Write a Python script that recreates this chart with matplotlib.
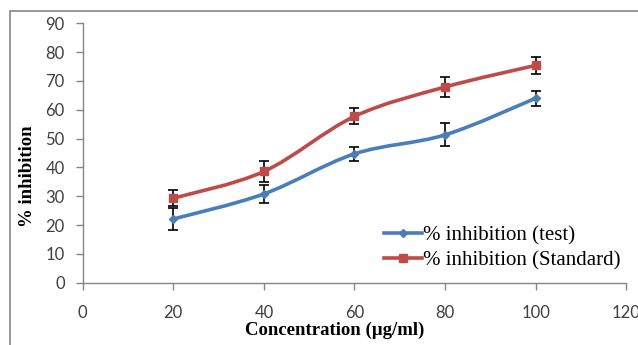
import matplotlib.pyplot as plt
import numpy as np
from matplotlib.path import Path
from matplotlib.patches import PathPatch, Rectangle

# data
conc = [20, 40, 60, 80, 100]
test_mean = [22.1, 30.8, 44.7, 51.3, 64.0]
test_err = [3.8, 3.0, 2.4, 4.0, 2.6]
std_mean = [29.3, 38.6, 57.7, 67.9, 75.4]
std_err = [2.7, 3.5, 2.8, 3.5, 2.9]

x_ticks = [0, 20, 40, 60, 80, 100, 120]
y_ticks = [0, 10, 20, 30, 40, 50, 60, 70, 80, 90]

blue = "#4A7EBB"
red = "#BE4B48"
grey = "#868686"


def smooth_path(x, y):
    # Excel-style smoothed line: cubic bezier through the points
    pts = np.column_stack([x, y]).astype(float)
    n = len(pts)
    verts = [pts[0]]
    codes = [Path.MOVETO]
    for i in range(n - 1):
        p0 = pts[i - 1] if i > 0 else pts[i]
        p1 = pts[i]
        p2 = pts[i + 1]
        p3 = pts[i + 2] if i + 2 < n else pts[i + 1]
        c1 = p1 + (p2 - p0) / 6.0
        c2 = p2 - (p3 - p1) / 6.0
        verts += [c1, c2, p2]
        codes += [Path.CURVE4] * 3
    return Path(verts, codes)


fig = plt.figure(figsize=(6.38, 3.45), dpi=100)
ax = fig.add_axes([82.7 / 638, 62.3 / 345, (626.3 - 82.7) / 638, (282.7 - 23.3) / 345])

# outer chart border (cropped on right and bottom like the original)
fig.patches.append(Rectangle((10 / 638, -0.1), 1.0, (345 - 11) / 345 + 0.1,
                             transform=fig.transFigure, fill=False,
                             edgecolor=grey, linewidth=1.2, clip_on=False))

for xs, ys, col in [(conc, test_mean, blue), (conc, std_mean, red)]:
    ax.add_patch(PathPatch(smooth_path(xs, ys), facecolor="none",
                           edgecolor=col, linewidth=2.6, capstyle="round", zorder=2))

ax.errorbar(conc, test_mean, yerr=test_err, fmt="none", ecolor="black",
            elinewidth=1.2, capsize=3.5, capthick=1.2, zorder=3)
ax.errorbar(conc, std_mean, yerr=std_err, fmt="none", ecolor="black",
            elinewidth=1.2, capsize=3.5, capthick=1.2, zorder=3)

ax.plot(conc, test_mean, linestyle="none", marker="D", markersize=4,
        color=blue, zorder=4)
ax.plot(conc, std_mean, linestyle="none", marker="s", markersize=6,
        color=red, zorder=4)

# legend handles
ax.plot([], [], color=blue, linewidth=2.6, marker="D", markersize=4,
        label="% inhibition (test)")
ax.plot([], [], color=red, linewidth=2.6, marker="s", markersize=6,
        label="% inhibition (Standard)")
leg = ax.legend(loc="lower right", bbox_to_anchor=(1.005, 0.015), frameon=False,
                prop={"family": "Liberation Serif", "size": 15},
                handlelength=1.85, handletextpad=0.05, labelspacing=0.28,
                borderaxespad=0)

ax.set_xlim(0, 120)
ax.set_ylim(0, 90)
ax.set_xticks(x_ticks)
ax.set_yticks(y_ticks)
ax.tick_params(axis="both", colors=grey, labelcolor="#404040", labelsize=12,
               length=5, width=1, direction="out")
ax.tick_params(axis="x", pad=11)
ax.tick_params(axis="y", pad=8)
for lab in ax.get_xticklabels() + ax.get_yticklabels():
    lab.set_family("Lato")

for s in ["top", "right"]:
    ax.spines[s].set_visible(False)
for s in ["left", "bottom"]:
    ax.spines[s].set_color(grey)
    ax.spines[s].set_linewidth(1)

ax.set_xlabel("Concentration (µg/ml)", family="Liberation Serif",
              fontweight="bold", fontsize=13.5)
ax.xaxis.set_label_coords((335 - 82.7) / 543.6, -(322 - 282.7) / 259.4)
ax.set_ylabel("% inhibition", family="Liberation Serif",
              fontweight="bold", fontsize=13.5)
ax.yaxis.set_label_coords(-(82.7 - 36) / 543.6, (282.7 - 176) / 259.4)

fig.savefig("out.png", dpi=100)
